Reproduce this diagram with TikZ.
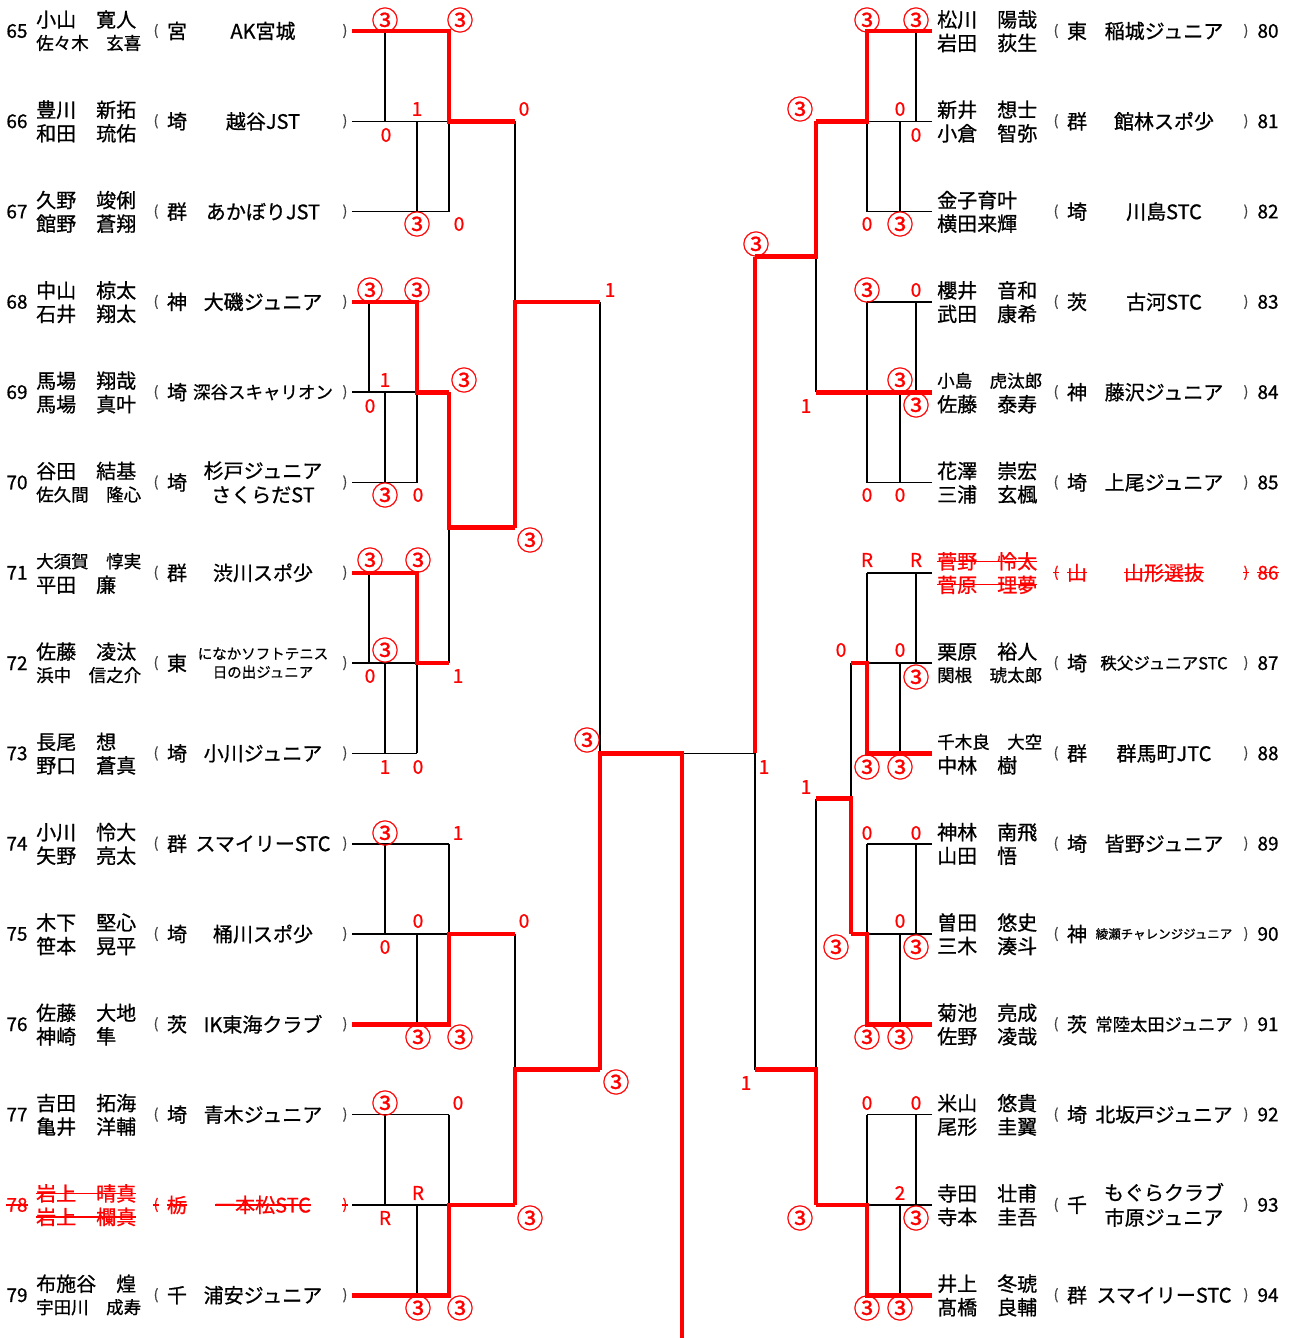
\documentclass[tikz,border=0pt]{standalone}
\usepackage{fontspec}
\setmainfont{Noto Sans CJK JP}[FakeBold=0.8]
\newcommand\myfs[1]{\fontsize{#1}{#1}\selectfont}
\definecolor{rd}{RGB}{255,0,0}
\newcommand\Lentry[8]{%
\node[numtxt,#8] (n#1) at (17,#2) {#1};
\node[nametxt,#8] (a#1) at (36,#2-11.5) {#3};
\node[nametxt,#8] (b#1) at (36,#2+12) {#4};
\node[partxt,#8] (o#1) at (156,#2) {(};
\node[preftxt,#8] (p#1) at (177,#2) {#5};
\node[clubtxt,#7,#8] (c#1) at (263,#2) {#6};
\node[partxt,#8] (e#1) at (345,#2) {)};
\coordinate (r#1) at (352,#2);}
\newcommand\Rentry[8]{%
\node[numtxt,#8] (n#1) at (1268,#2) {#1};
\node[nametxt,#8] (a#1) at (937,#2-11.5) {#3};
\node[nametxt,#8] (b#1) at (937,#2+12) {#4};
\node[partxt,#8] (o#1) at (1056,#2) {(};
\node[preftxt,#8] (p#1) at (1077,#2) {#5};
\node[clubtxt,#7,#8] (c#1) at (1164,#2) {#6};
\node[partxt,#8] (e#1) at (1246,#2) {)};
\coordinate (r#1) at (932,#2);}
\newcommand\sco[4]{\node[sc] (#1) at (#2,#3) {#4};}
\newcommand\scc[3]{\node[scbig] (#1) at (#2,#3) {③};}
\newcommand\strk[1]{\draw[rd,line width=1.3pt] (#1.west) -- (#1.east);}
\begin{document}
\begin{tikzpicture}[x=1pt,y=-1pt,
  blk/.style={line width=1.6pt,black},
  win/.style={line width=4.6pt,rd,line join=miter},
  numtxt/.style={inner sep=0pt,font=\myfs{19}},
  nametxt/.style={anchor=west,inner sep=0pt,font=\myfs{20}},
  partxt/.style={inner sep=0pt,font=\myfs{14},text=black!75},
  preftxt/.style={inner sep=0pt,font=\myfs{20}},
  clubtxt/.style={inner sep=0pt,align=center,font=\myfs{20}},
  sc/.style={inner sep=0pt,text=rd,font=\myfs{19}},
  scbig/.style={inner sep=0pt,text=rd,font=\myfs{27}}]
\useasboundingbox[fill=white] (0,0) rectangle (1289,1338);
% ---------- left entries
\Lentry{65}{31}{小山　寛人}{{\myfs{17.5}佐々木　玄喜}}{宮}{AK宮城}{}{}
\Lentry{66}{121.3}{豊川　新拓}{和田　琉佑}{埼}{越谷JST}{}{}
\Lentry{67}{211.6}{久野　竣俐}{館野　蒼翔}{群}{あかぼりJST}{}{}
\Lentry{68}{301.9}{中山　椋太}{石井　翔太}{神}{大磯ジュニア}{}{}
\Lentry{69}{392.2}{馬場　翔哉}{馬場　真叶}{埼}{深谷スキャリオン}{font=\myfs{17.5}}{}
\Lentry{70}{482.5}{谷田　結基}{{\myfs{17.5}佐久間　隆心}}{埼}{杉戸ジュニア\\さくらだST}{font=\fontsize{20}{24}\selectfont}{}
\Lentry{71}{572.8}{{\myfs{17.5}大須賀　惇実}}{平田　廉}{群}{渋川スポ少}{}{}
\Lentry{72}{663.1}{佐藤　凌汰}{{\myfs{17.5}浜中　信之介}}{東}{になかソフトテニス\\日の出ジュニア}{font=\fontsize{14.5}{18.5}\selectfont}{}
\Lentry{73}{753.4}{長尾　想}{野口　蒼真}{埼}{小川ジュニア}{}{}
\Lentry{74}{843.7}{小川　怜大}{矢野　亮太}{群}{スマイリーSTC}{}{}
\Lentry{75}{934}{木下　堅心}{笹本　晃平}{埼}{桶川スポ少}{}{}
\Lentry{76}{1024.3}{佐藤　大地}{神崎　隼}{茨}{IK東海クラブ}{}{}
\Lentry{77}{1114.6}{吉田　拓海}{亀井　洋輔}{埼}{青木ジュニア}{}{}
\Lentry{78}{1204.9}{岩上　晴真}{岩上　欄真}{栃}{一本松STC}{}{text=rd}
\Lentry{79}{1295.2}{布施谷　煌}{{\myfs{17.5}宇田川　成寿}}{千}{浦安ジュニア}{}{}
% ---------- right entries
\Rentry{80}{31}{松川　陽哉}{岩田　荻生}{東}{稲城ジュニア}{}{}
\Rentry{81}{121.3}{新井　想士}{小倉　智弥}{群}{館林スポ少}{}{}
\Rentry{82}{211.6}{金子育叶}{横田来輝}{埼}{川島STC}{}{}
\Rentry{83}{301.9}{櫻井　音和}{武田　康希}{茨}{古河STC}{}{}
\Rentry{84}{392.2}{{\myfs{17.5}小島　虎汰郎}}{佐藤　泰寿}{神}{藤沢ジュニア}{}{}
\Rentry{85}{482.5}{花澤　崇宏}{三浦　玄楓}{埼}{上尾ジュニア}{}{}
\Rentry{86}{572.8}{菅野　怜太}{菅原　理夢}{山}{山形選抜}{}{text=rd}
\Rentry{87}{663.1}{栗原　裕人}{{\myfs{17.5}関根　琥太郎}}{埼}{秩父ジュニアSTC}{font=\myfs{16.5}}{}
\Rentry{88}{753.4}{{\myfs{17.5}千木良　大空}}{中林　樹}{群}{群馬町JTC}{}{}
\Rentry{89}{843.7}{神林　南飛}{山田　悟}{埼}{皆野ジュニア}{}{}
\Rentry{90}{934}{曽田　悠史}{三木　湊斗}{神}{綾瀬チャレンジジュニア}{font=\myfs{12.5}}{}
\Rentry{91}{1024.3}{菊池　亮成}{佐野　凌哉}{茨}{常陸太田ジュニア}{font=\myfs{17.3}}{}
\Rentry{92}{1114.6}{米山　悠貴}{尾形　圭翼}{埼}{北坂戸ジュニア}{font=\myfs{19.8}}{}
\Rentry{93}{1204.9}{寺田　壮甫}{寺本　圭吾}{千}{もぐらクラブ\\市原ジュニア}{font=\fontsize{20}{25}\selectfont}{}
\Rentry{94}{1295.2}{井上　冬琥}{髙橋　良輔}{群}{スマイリーSTC}{}{}
% strike-outs
\strk{n78}\strk{a78}\strk{b78}\strk{o78}\strk{p78}\strk{c78}\strk{e78}
\strk{n86}\strk{a86}\strk{b86}\strk{o86}\strk{p86}\strk{c86}\strk{e86}
% ---------- columns and meeting rows
\coordinate (xa) at (369,0); \coordinate (xb) at (385,0);
\coordinate (xc) at (417,0); \coordinate (xd) at (449,0);
\coordinate (xe) at (515,0); \coordinate (xf) at (600,0);
\coordinate (xg) at (682,0); \coordinate (xh) at (755,0);
\coordinate (xi) at (816,0); \coordinate (xj) at (851,0);
\coordinate (xk) at (867,0); \coordinate (xl) at (900,0);
\coordinate (xm) at (916,0);
\coordinate (ma) at (0,527.6); \coordinate (mb) at (0,1069.5);
\coordinate (mc) at (0,256.6); \coordinate (md) at (0,798.5);
\coordinate (bot) at (682,1338);
% ---------- black lines
\draw[blk] (r66) -- (xd|-r66); \draw[blk] (r67) -- (xd|-r67);
\draw[blk] (xb|-r65) -- (xb|-r66); \draw[blk] (xc|-r66) -- (xc|-r67); \draw[blk] (xd|-r66) -- (xd|-r67);
\draw[blk] (r69) -- (xc|-r69); \draw[blk] (r70) -- (xc|-r70);
\draw[blk] (xa|-r68) -- (xa|-r69); \draw[blk] (xb|-r69) -- (xb|-r70); \draw[blk] (xc|-r69) -- (xc|-r70);
\draw[blk] (r72) -- (xc|-r72); \draw[blk] (r73) -- (xc|-r73);
\draw[blk] (xa|-r71) -- (xa|-r72); \draw[blk] (xb|-r72) -- (xb|-r73); \draw[blk] (xc|-r72) -- (xc|-r73);
\draw[blk] (r74) -- (xd|-r74); \draw[blk] (r75) -- (xd|-r75);
\draw[blk] (xb|-r74) -- (xb|-r75); \draw[blk] (xc|-r75) -- (xc|-r76); \draw[blk] (xd|-r74) -- (xd|-r75);
\draw[blk] (r77) -- (xd|-r77); \draw[blk] (r78) -- (xd|-r78);
\draw[blk] (xb|-r77) -- (xb|-r78); \draw[blk] (xc|-r78) -- (xc|-r79); \draw[blk] (xd|-r77) -- (xd|-r78);
\draw[blk] (xd|-ma) -- (xd|-r72);
\draw[blk] (xe|-r66) -- (xe|-r68);
\draw[blk] (xe|-r75) -- (xe|-mb);
\draw[blk] (xf|-r68) -- (xf|-r73);
\draw[blk] (xg|-r73) -- (xh|-r73);
\draw[blk] (r81) -- (xk|-r81); \draw[blk] (r82) -- (xk|-r82);
\draw[blk] (xm|-r80) -- (xm|-r81); \draw[blk] (xl|-r81) -- (xl|-r82); \draw[blk] (xk|-r81) -- (xk|-r82);
\draw[blk] (r83) -- (xk|-r83); \draw[blk] (r85) -- (xk|-r85);
\draw[blk] (xm|-r83) -- (xm|-r84); \draw[blk] (xl|-r84) -- (xl|-r85); \draw[blk] (xk|-r83) -- (xk|-r85);
\draw[blk] (r86) -- (xk|-r86); \draw[blk] (r87) -- (xk|-r87);
\draw[blk] (xm|-r86) -- (xm|-r87); \draw[blk] (xl|-r87) -- (xl|-r88); \draw[blk] (xk|-r86) -- (xk|-r87);
\draw[blk] (r89) -- (xk|-r89); \draw[blk] (r90) -- (xk|-r90);
\draw[blk] (xm|-r89) -- (xm|-r90); \draw[blk] (xl|-r90) -- (xl|-r91); \draw[blk] (xk|-r89) -- (xk|-r90);
\draw[blk] (r92) -- (xk|-r92); \draw[blk] (r93) -- (xk|-r93);
\draw[blk] (xm|-r92) -- (xm|-r93); \draw[blk] (xl|-r93) -- (xl|-r94); \draw[blk] (xk|-r92) -- (xk|-r93);
\draw[blk] (xi|-mc) -- (xi|-r84);
\draw[blk] (xj|-r87) -- (xj|-md);
\draw[blk] (xi|-md) -- (xi|-mb);
\draw[blk] (xh|-r73) -- (xh|-mb);
% ---------- red winner lines
\draw[win] (r65) -- (xd|-r65) -- (xd|-r66) -- (xe|-r66);
\draw[win] (r68) -- (xc|-r68) -- (xc|-r69) -- (xd|-r69);
\draw[win] (r71) -- (xc|-r71) -- (xc|-r72) -- (xd|-r72);
\draw[win] (r76) -- (xd|-r76) -- (xd|-r75) -- (xe|-r75);
\draw[win] (r79) -- (xd|-r79) -- (xd|-r78) -- (xe|-r78);
\draw[win] (xd|-r69) -- (xd|-ma) -- (xe|-ma);
\draw[win] (xe|-ma) -- (xe|-r68) -- (xf|-r68);
\draw[win] (xe|-r78) -- (xe|-mb) -- (xf|-mb);
\draw[win] (xf|-mb) -- (xf|-r73) -- (xg|-r73) -- (bot);
\draw[win] (r80) -- (xk|-r80) -- (xk|-r81) -- (xi|-r81);
\draw[win] (r84) -- (xi|-r84);
\draw[win] (r88) -- (xk|-r88) -- (xk|-r87) -- (xj|-r87);
\draw[win] (r91) -- (xk|-r91) -- (xk|-r90) -- (xj|-r90);
\draw[win] (r94) -- (xk|-r94) -- (xk|-r93) -- (xi|-r93);
\draw[win] (xi|-r81) -- (xi|-mc) -- (xh|-mc);
\draw[win] (xj|-r90) -- (xj|-md) -- (xi|-md);
\draw[win] (xi|-r93) -- (xi|-mb) -- (xh|-mb);
\draw[win] (xh|-mc) -- (xh|-r73);
% ---------- scores left
\scc{s01}{385}{20} \scc{s02}{460}{20}
\sco{s03}{417}{109}{1} \sco{s04}{386}{135}{0} \sco{s05}{524}{109}{0}
\scc{s06}{417}{224} \sco{s07}{459}{224}{0}
\scc{s08}{370}{290} \scc{s09}{417}{290} \sco{s10}{610}{290}{1}
\sco{s11}{385}{380}{1} \sco{s12}{370}{406}{0} \scc{s13}{464}{380}
\scc{s14}{385}{495} \sco{s15}{418}{495}{0} \scc{s16}{530}{540}
\scc{s17}{370}{560} \scc{s18}{418}{560}
\scc{s19}{385}{650} \sco{s20}{370}{676}{0} \sco{s21}{458}{676}{1}
\sco{s22}{385}{767}{1} \sco{s23}{418}{767}{0} \scc{s24}{587}{740}
\scc{s25}{385}{833} \sco{s26}{458}{833}{1}
\sco{s27}{418}{921}{0} \sco{s28}{524}{921}{0} \sco{s29}{385}{947}{0}
\scc{s30}{418}{1037} \scc{s31}{460}{1037} \scc{s32}{616}{1082}
\scc{s33}{385}{1103} \sco{s34}{458}{1103}{0}
\sco{s35}{418}{1193}{R} \sco{s36}{385}{1218}{R} \scc{s37}{530}{1218}
\scc{s38}{418}{1308} \scc{s39}{460}{1308}
% ---------- scores right
\scc{t01}{867}{20} \scc{t02}{916}{20}
\scc{t03}{800}{109} \sco{t04}{900}{109}{0} \sco{t05}{916}{135}{0}
\sco{t06}{867}{224}{0} \scc{t07}{900}{224} \scc{t08}{756}{244}
\scc{t09}{867}{290} \sco{t10}{916}{290}{0}
\scc{t11}{900}{380} \scc{t12}{916}{405} \sco{t13}{806}{406}{1}
\sco{t14}{867}{495}{0} \sco{t15}{900}{495}{0}
\sco{t16}{867}{560}{R} \sco{t17}{916}{560}{R}
\sco{t18}{841}{650}{0} \sco{t19}{900}{650}{0} \scc{t20}{916}{677}
\scc{t21}{867}{767} \scc{t22}{900}{767} \sco{t23}{764}{767}{1} \sco{t24}{806}{787}{1}
\sco{t25}{867}{833}{0} \sco{t26}{916}{833}{0}
\sco{t27}{900}{921}{0} \scc{t28}{836}{947} \scc{t29}{916}{947}
\scc{t30}{867}{1037} \scc{t31}{900}{1037} \sco{t32}{746}{1083}{1}
\sco{t33}{867}{1103}{0} \sco{t34}{916}{1103}{0}
\sco{t35}{900}{1193}{2} \scc{t36}{800}{1218} \scc{t37}{916}{1218}
\scc{t38}{867}{1308} \scc{t39}{900}{1308}
\end{tikzpicture}
\end{document}
